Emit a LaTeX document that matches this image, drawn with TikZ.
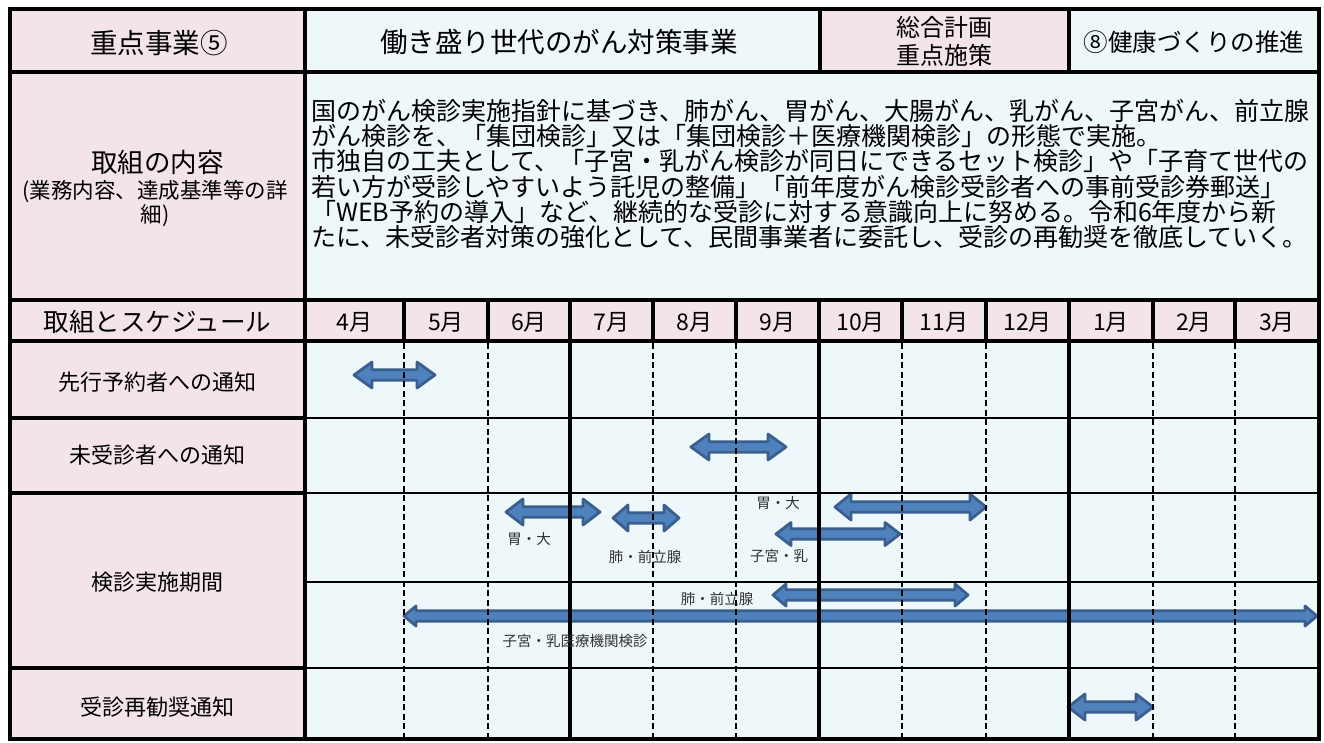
\documentclass[tikz,border=0pt]{standalone}
\usepackage{fontspec}
\setmainfont{Noto Sans CJK JP}
\definecolor{pinkc}{HTML}{F2E4EA}
\definecolor{bluec}{HTML}{EEF7F9}
\definecolor{arrfill}{HTML}{4F81BD}
\definecolor{arrline}{HTML}{3A5F8F}
\definecolor{lblc}{HTML}{333333}
\newcommand\setfs[2]{\fontsize{#1}{#2}\selectfont}
\newcommand\gantarrow[6]{%
  \draw[arrowshape] (#1,#3) -- ({#1+#6},{#3-#4}) -- ({#1+#6},{#3-#5}) -- ({#2-#6},{#3-#5}) -- ({#2-#6},{#3-#4}) -- (#2,#3) -- ({#2-#6},{#3+#4}) -- ({#2-#6},{#3+#5}) -- ({#1+#6},{#3+#5}) -- ({#1+#6},{#3+#4}) -- cycle;}
\begin{document}
\begin{tikzpicture}[x=1pt,y=-1pt,
  thickline/.style={line width=4.5pt,line cap=rect},
  midline/.style={line width=3.2pt},
  thinline/.style={line width=2.6pt},
  dashline/.style={line width=2pt,dash pattern=on 6pt off 3.5pt},
  arrowshape/.style={fill=arrfill,draw=arrline,line width=2.8pt,line join=round},
  cell/.style={inner sep=0pt,anchor=center},
  body/.style={inner sep=0pt,anchor=base west,font=\setfs{25}{25}},
  lbl/.style={inner sep=0pt,anchor=center,text=lblc,font=\setfs{14.5}{15}},
  month/.style={inner sep=0pt,anchor=center,font=\setfs{23}{23}},
  rowlbl/.style={inner sep=0pt,anchor=center,font=\setfs{22}{22}}]
\useasboundingbox (0,0) rectangle (1324,742);
\fill[white] (0,0) rectangle (1324,742);
% fills
\fill[pinkc] (10,9) rectangle (305,739);
\fill[pinkc] (820,9) rectangle (1069,72);
\fill[pinkc] (305,300) rectangle (1319,341);
\fill[bluec] (305,9) rectangle (820,72);
\fill[bluec] (1069,9) rectangle (1319,72);
\fill[bluec] (305,72) rectangle (1319,300);
\fill[bluec] (305,341) rectangle (1319,739);
% arrows
\gantarrow{354}{435}{375}{13}{5.2}{18}
\gantarrow{691}{786}{447}{13}{5.2}{18}
\gantarrow{506}{600}{512}{13}{5.2}{17}
\gantarrow{613}{679}{518}{13}{5.2}{15}
\gantarrow{835}{986}{507}{13}{5.2}{16}
\gantarrow{776}{900}{534}{11.5}{5.2}{15}
\gantarrow{773}{968}{595}{11}{5.2}{13}
\gantarrow{404}{1317}{616}{10}{5.2}{12}
\gantarrow{1068}{1153}{707}{13}{5.2}{17}
% schedule grid
\foreach \y in {418,493,582,668} \draw[thinline] (305,\y) -- (1319,\y);
\foreach \x in {404,488,653,736,902,986,1153,1235} \draw[dashline] (\x,343) -- (\x,739);
\foreach \x in {570,819,1069} \draw[midline] (\x,341) -- (\x,739);
\foreach \x in {404,488,570,653,736,819,902,986,1069,1153,1235} \draw[midline] (\x,300) -- (\x,341);
% thick lines
\foreach \y in {72,300,341} \draw[thickline] (10,\y) -- (1319,\y);
\foreach \y in {418,493,668} \draw[thickline] (10,\y) -- (305,\y);
\draw[thickline] (305,9) -- (305,739);
\draw[thickline] (820,9) -- (820,72);
\draw[thickline] (1069,9) -- (1069,72);
\draw[thickline] (10,9) rectangle (1319,739);
% header texts
\node[cell,font=\setfs{27.5}{27.5}] (h1) at (159,43) {重点事業⑤};
\node[cell,font=\setfs{27.5}{27.5}] (h2) at (559,42) {働き盛り世代のがん対策事業};
\node[cell,font=\setfs{24}{27.5},align=center] (h3) at (944.5,41.5) {総合計画\\重点施策};
\node[cell,font=\setfs{24.5}{24.5}] (h4) at (1194,42) {⑧健康づくりの推進};
% content label
\node[cell,font=\setfs{26.5}{26.5}] (c1) at (157.5,162.5) {取組の内容};
\node[cell,font=\setfs{21.5}{24},align=center] (c2) at (155,204) {(業務内容、達成基準等の詳\\細)};
% body text
\node[body] (b1) at (311,120.5) {国のがん検診実施指針に基づき、肺がん、胃がん、大腸がん、乳がん、子宮がん、前立腺};
\node[body] (b2) at (311,145.7) {がん検診を、「集団検診」又は「集団検診＋医療機関検診」の形態で実施。};
\node[body] (b3) at (311,170.9) {市独自の工夫として、「子宮・乳がん検診が同日にできるセット検診」や「子育て世代の};
\node[body] (b4) at (311,196.1) {若い方が受診しやすいよう託児の整備」「前年度がん検診受診者への事前受診券郵送」};
\node[body] (b5) at (311,221.3) {「WEB予約の導入」など、継続的な受診に対する意識向上に努める。令和6年度から新};
\node[body] (b6) at (311,246.5) {たに、未受診者対策の強化として、民間事業者に委託し、受診の再勧奨を徹底していく。};
% schedule header
\node[cell,font=\setfs{25.5}{25.5}] (s0) at (157.5,321.5) {取組とスケジュール};
\node[month] (m4) at (354.5,322) {4月};
\node[month] (m5) at (446,322) {5月};
\node[month] (m6) at (529,322) {6月};
\node[month] (m7) at (611.5,322) {7月};
\node[month] (m8) at (694.5,322) {8月};
\node[month] (m9) at (777.5,322) {9月};
\node[month] (m10) at (860.5,322) {10月};
\node[month] (m11) at (944,322) {11月};
\node[month] (m12) at (1027.5,322) {12月};
\node[month] (m1) at (1111,322) {1月};
\node[month] (m2) at (1194,322) {2月};
\node[month] (m3) at (1277,322) {3月};
% row labels
\node[rowlbl] (r1) at (157.5,382) {先行予約者への通知};
\node[rowlbl] (r2) at (157.5,455) {未受診者への通知};
\node[rowlbl] (r3) at (157.5,582) {検診実施期間};
\node[rowlbl] (r4) at (157.5,707) {受診再勧奨通知};
% arrow labels
\node[lbl] (l1) at (529,539) {胃・大};
\node[lbl] (l2) at (645,557) {肺・前立腺};
\node[lbl] (l3) at (778,503) {胃・大};
\node[lbl] (l4) at (779,556) {子宮・乳};
\node[lbl] (l5) at (717,599) {肺・前立腺};
\node[lbl] (l6) at (575,641) {子宮・乳医療機関検診};
\end{tikzpicture}
\end{document}
